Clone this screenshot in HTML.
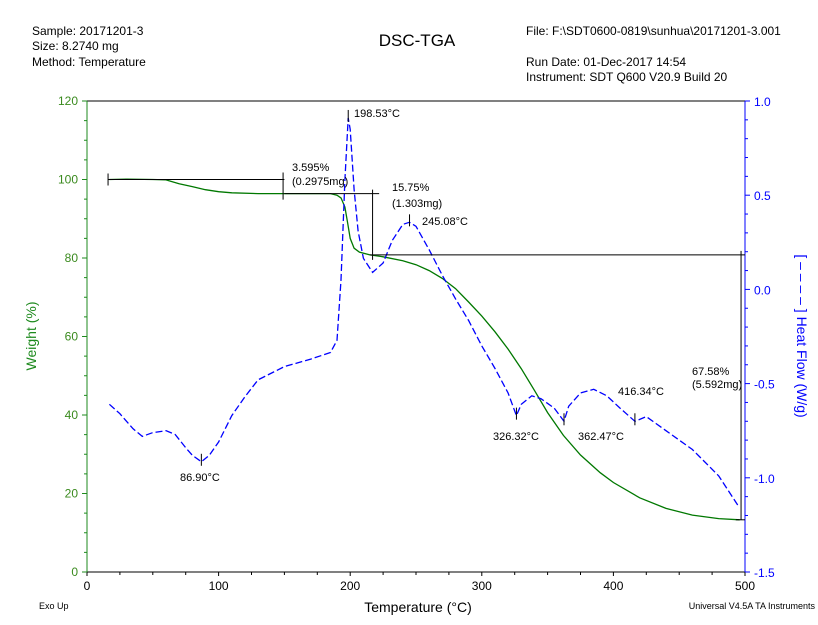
<!DOCTYPE html>
<html><head><meta charset="utf-8"><style>
body{margin:0;background:#fff;}
svg{display:block;font-family:"Liberation Sans",sans-serif;}
</style></head><body>
<svg id="chart" width="818" height="625">
<g font-size="12" fill="#000">
<text x="32" y="35">Sample: 20171201-3</text>
<text x="32" y="50">Size:  8.2740 mg</text>
<text x="32" y="66">Method: Temperature</text>
<text x="417" y="46" font-size="17" text-anchor="middle">DSC-TGA</text>
<text x="526" y="35">File: F:\SDT0600-0819\sunhua\20171201-3.001</text>
<text x="526" y="66">Run Date: 01-Dec-2017 14:54</text>
<text x="526" y="81">Instrument: SDT Q600 V20.9 Build 20</text>
</g>
<g id="axes"></g>
<g id="marks"></g>
<g id="annot" font-size="11" fill="#000"></g>
<text x="418" y="612" font-size="14" text-anchor="middle">Temperature (°C)</text>
<text x="39" y="609" font-size="9">Exo Up</text>
<text x="815" y="609" font-size="9" text-anchor="end">Universal V4.5A TA Instruments</text>
<text transform="translate(36,336) rotate(-90)" font-size="14" fill="#1e8a1e" text-anchor="middle">Weight (%)</text>
<text transform="translate(797,336) rotate(90)" font-size="14" fill="#0000ff" text-anchor="middle">[ – – – – ] Heat Flow (W/g)</text>
</svg>
<script>
const weightT=[17,30,50,60,70,80,90,100,110,130,150,170,185,190,193,196,198,200,203,207,215,225,240,250,260,270,280,290,300,310,320,330,340,350,362,375,390,400,420,440,460,480,496];
const weightV=[100,100.1,100,99.9,98.9,98.2,97.4,96.9,96.6,96.4,96.4,96.4,96.4,96.0,95.3,93,89,85,82.5,81.5,80.8,80.3,79.3,78.3,76.8,74.8,72.2,68.8,65.2,61.2,56.8,51.8,46.3,40.6,34.8,29.8,25.3,22.8,18.9,16.2,14.5,13.6,13.3];
const heatT=[17,25,35,42,50,60,67,75,80,86.9,93,100,110,120,130,150,170,185,190,193,196,198.5,200,203,206,210,217,225,232,240,245,250,260,270,280,290,300,310,320,326.3,330,338,345,355,362.5,366,375,385,395,405,416.3,420,425,440,460,480,495];
const heatV=[-0.61,-0.66,-0.74,-0.78,-0.76,-0.75,-0.77,-0.84,-0.88,-0.915,-0.88,-0.81,-0.67,-0.57,-0.48,-0.41,-0.37,-0.335,-0.27,0.05,0.58,0.91,0.85,0.53,0.31,0.165,0.09,0.14,0.26,0.345,0.356,0.335,0.21,0.075,-0.05,-0.165,-0.3,-0.42,-0.55,-0.67,-0.61,-0.565,-0.58,-0.63,-0.70,-0.62,-0.55,-0.53,-0.565,-0.63,-0.70,-0.69,-0.675,-0.75,-0.85,-0.99,-1.15];
const xTicks=[0,100,200,300,400,500];
const yTicks=[0,20,40,60,80,100,120];
const y2Ticks=["1.0","0.5","0.0","-0.5","-1.0","-1.5"];
const X0=87,X1=745,YB=572,YT=101;
const sx=t=>X0+(X1-X0)*t/500;
const sy=w=>YB-(YB-YT)*w/120;
const sy2=h=>YT+(YB-YT)*(1-h)/2.5;
const NS="http://www.w3.org/2000/svg";
function mk(tag,attrs,parent){const e=document.createElementNS(NS,tag);for(const k in attrs)e.setAttribute(k,attrs[k]);parent.appendChild(e);return e;}
const ax=document.getElementById('axes');
let e;
e=mk('line',{x1:X0,y1:YT,x2:X1,y2:YT,stroke:'#000'},ax);


e=mk('line',{x1:X0,y1:YB,x2:X1,y2:YB,stroke:'#000'},ax);


e=mk('line',{x1:X0,y1:YT,x2:X0,y2:YB,stroke:'#1e8a1e'},ax);


e=mk('line',{x1:X1,y1:YT,x2:X1,y2:YB,stroke:'#0000ff'},ax);


for(let t=0;t<=500;t+=25){mk('line',{x1:sx(t),y1:YB,x2:sx(t),y2:YB+(t%100?3:4),stroke:'#000'},ax);}
xTicks.forEach(t=>{const l=mk('text',{x:sx(t),y:YB+18,'font-size':12,'text-anchor':'middle'},ax);l.textContent=t;

});
for(let w=0;w<=120;w+=5){mk('line',{x1:X0-(w%20?3:5),y1:sy(w),x2:X0,y2:sy(w),stroke:'#1e8a1e'},ax);}
yTicks.forEach(w=>{const l=mk('text',{x:X0-9,y:sy(w)+4,'font-size':12,'text-anchor':'end',fill:'#3a8a1e'},ax);l.textContent=w;

});
for(let i=0;i<=25;i++){const h=1-i*0.1;mk('line',{x1:X1,y1:sy2(h),x2:X1+(i%5?3:5),y2:sy2(h),stroke:'#0000ff'},ax);}
y2Ticks.forEach(s=>{const l=mk('text',{x:X1+9,y:sy2(parseFloat(s))+5,'font-size':12,fill:'#0000ff'},ax);l.textContent=s;

});
const mg=document.getElementById('marks');
const wp=mk('path',{d:weightT.map((t,i)=>(i?'L':'M')+sx(t).toFixed(1)+','+sy(weightV[i]).toFixed(1)).join(''),fill:'none',stroke:'#007800','stroke-width':1.3},mg);


const hp=mk('path',{d:heatT.map((t,i)=>(i?'L':'M')+sx(t).toFixed(1)+','+sy2(heatV[i]).toFixed(1)).join(''),fill:'none',stroke:'#0000ff','stroke-width':1.3,'stroke-dasharray':'7,3'},mg);


const an=document.getElementById('annot');
function ln(x1,y1,x2,y2){const l=mk('line',{x1,y1,x2,y2,stroke:'#000'},an);

}
function tx(x,y,s,name){const l=mk('text',{x,y},an);l.textContent=s;

}
ln(sx(16),sy(100),sx(150),sy(100));ln(sx(16),sy(100)-6,sx(16),sy(100)+6);
ln(sx(150),sy(96.4),sx(222),sy(96.4));ln(sx(149),sy(100)-7,sx(149),sy(96.4)+6);
ln(sx(217),sy(96.4)-4,sx(217),sy(80.8)+5);
ln(sx(215),sy(80.8),X1,sy(80.8));
ln(sx(497),sy(80.8)-4,sx(497),sy(13.3));ln(sx(493),sy(13.3),X1,sy(13.3));
[[198.5,0.91],[245.08,0.356],[86.9,-0.915],[326.32,-0.67],[362.47,-0.70],[416.34,-0.70]].forEach(p=>ln(sx(p[0]),sy2(p[1])-8,sx(p[0]),sy2(p[1])+4));
tx(292,171,'3.595%','annotation-3595');tx(292,185,'(0.2975mg)','annotation-02975mg');
tx(392,191,'15.75%','annotation-1575');tx(392,207,'(1.303mg)','annotation-1303mg');
tx(354,117,'198.53°C','peak-198');tx(422,225,'245.08°C','peak-245');
tx(180,481,'86.90°C','peak-86');tx(493,440,'326.32°C','peak-326');
tx(578,440,'362.47°C','peak-362');tx(618,395,'416.34°C','peak-416');
tx(692,375,'67.58%','annotation-6758');tx(692,388,'(5.592mg)','annotation-5592mg');
</script>
</body></html>
